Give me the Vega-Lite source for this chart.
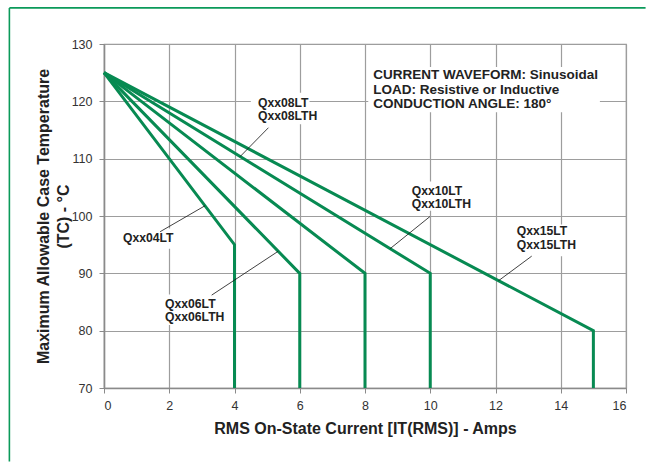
{
  "$schema": "https://vega.github.io/schema/vega-lite/v6.json",
  "width": 522,
  "height": 344,
  "autosize": {"type": "none"},
  "padding": {"left": 104, "top": 44, "right": 27, "bottom": 77},
  "background": "white",
  "config": {
    "font": "Liberation Sans",
    "view": {"stroke": "#999999", "strokeWidth": 1.2},
    "axis": {
      "grid": true,
      "gridColor": "#9d9d9d",
      "gridWidth": 1.2,
      "domainColor": "#8a8a8a",
      "domainWidth": 1.5,
      "tickColor": "#8a8a8a",
      "tickSize": 5,
      "labelFontSize": 12.5,
      "labelColor": "#333333",
      "labelFont": "Liberation Sans",
      "titleFont": "Liberation Sans",
      "titleFontSize": 16,
      "titleFontWeight": "bold",
      "titleColor": "#222222"
    }
  },
  "datasets": {
    "frame": [
      {"x": -2.9, "x2": 16.6, "y": 136.3, "y2": 136.3},
      {"x": -2.9, "x2": -2.9, "y": 136.3, "y2": 57.2}
    ],
    "curves": [
      {"series": "Qxx04LT", "i": 0, "x": 0, "y": 125},
      {"series": "Qxx04LT", "i": 1, "x": 4, "y": 95},
      {"series": "Qxx04LT", "i": 2, "x": 4, "y": 70},
      {"series": "Qxx06LT", "i": 0, "x": 0, "y": 125},
      {"series": "Qxx06LT", "i": 1, "x": 6, "y": 90},
      {"series": "Qxx06LT", "i": 2, "x": 6, "y": 70},
      {"series": "Qxx08LT", "i": 0, "x": 0, "y": 125},
      {"series": "Qxx08LT", "i": 1, "x": 8, "y": 90},
      {"series": "Qxx08LT", "i": 2, "x": 8, "y": 70},
      {"series": "Qxx10LT", "i": 0, "x": 0, "y": 125},
      {"series": "Qxx10LT", "i": 1, "x": 10, "y": 90},
      {"series": "Qxx10LT", "i": 2, "x": 10, "y": 70},
      {"series": "Qxx15LT", "i": 0, "x": 0, "y": 125},
      {"series": "Qxx15LT", "i": 1, "x": 15, "y": 80},
      {"series": "Qxx15LT", "i": 2, "x": 15, "y": 70}
    ],
    "boxes": [
      {"x": 8.1, "x2": 15.2, "y": 118.1, "y2": 126.0},
      {"x": 4.5, "x2": 6.3, "y": 116.0, "y2": 121.5},
      {"x": 0.5, "x2": 2.3, "y": 94.3, "y2": 97.8},
      {"x": 1.75, "x2": 3.8, "y": 81.0, "y2": 86.3},
      {"x": 9.3, "x2": 11.1, "y": 100.9, "y2": 106.0},
      {"x": 12.5, "x2": 15.0, "y": 93.0, "y2": 98.5}
    ],
    "leaders": [
      {"x": 5.04, "y": 115.4, "x2": 4.17, "y2": 110.35},
      {"x": 1.72, "y": 97.26, "x2": 3.1, "y2": 101.8},
      {"x": 3.3, "y": 86.2, "x2": 5.34, "y2": 93.85},
      {"x": 9.99, "y": 99.9, "x2": 8.77, "y2": 94.3},
      {"x": 13.11, "y": 93.0, "x2": 12.09, "y2": 88.7}
    ],
    "labels": [
      {"text": "Qxx08LT", "x": 4.72, "y": 119.76},
      {"text": "Qxx08LTH", "x": 4.72, "y": 117.44},
      {"text": "Qxx04LT", "x": 0.58, "y": 96.16},
      {"text": "Qxx06LT", "x": 1.87, "y": 84.65},
      {"text": "Qxx06LTH", "x": 1.87, "y": 82.38},
      {"text": "Qxx10LT", "x": 9.43, "y": 104.41},
      {"text": "Qxx10LTH", "x": 9.43, "y": 102.09},
      {"text": "Qxx15LT", "x": 12.65, "y": 97.43},
      {"text": "Qxx15LTH", "x": 12.65, "y": 94.94}
    ],
    "notes": [
      {"text": "CURRENT WAVEFORM: Sinusoidal", "x": 8.25, "y": 124.59},
      {"text": "LOAD: Resistive or Inductive", "x": 8.25, "y": 121.98},
      {"text": "CONDUCTION ANGLE: 180°", "x": 8.25, "y": 119.53}
    ]
  },
  "encoding": {
    "x": {
      "field": "x",
      "type": "quantitative",
      "scale": {"domain": [0, 16], "nice": false, "zero": false},
      "axis": {
        "values": [0, 2, 4, 6, 8, 10, 12, 14, 16],
        "labelPadding": 6,
        "titlePadding": 9,
        "title": "RMS On-State Current [IT(RMS)] - Amps"
      }
    },
    "y": {
      "field": "y",
      "type": "quantitative",
      "scale": {"domain": [70, 130], "nice": false, "zero": false},
      "axis": {
        "values": [70, 80, 90, 100, 110, 120, 130],
        "labelPadding": 7,
        "titlePadding": 0,
        "titleLineHeight": 20,
        "title": ["Maximum Allowable Case Temperature", "(TC) - °C"]
      }
    }
  },
  "layer": [
    {
      "data": {"name": "frame"},
      "mark": {"type": "rule", "clip": false, "color": "#0b9a5a", "strokeWidth": 1.6},
      "encoding": {"x2": {"field": "x2"}, "y2": {"field": "y2"}}
    },
    {
      "data": {"name": "boxes"},
      "mark": {"type": "rect", "fill": "white", "stroke": null},
      "encoding": {"x2": {"field": "x2"}, "y2": {"field": "y2"}}
    },
    {
      "data": {"name": "curves"},
      "mark": {"type": "line", "color": "#078a52", "strokeWidth": 3, "strokeJoin": "miter", "strokeCap": "butt"},
      "encoding": {
        "detail": {"field": "series"},
        "order": {"field": "i", "type": "quantitative"}
      }
    },
    {
      "data": {"name": "leaders"},
      "mark": {"type": "rule", "color": "#111111", "strokeWidth": 0.8},
      "encoding": {"x2": {"field": "x2"}, "y2": {"field": "y2"}}
    },
    {
      "data": {"name": "labels"},
      "mark": {"type": "text", "align": "left", "baseline": "middle", "fontSize": 12.2, "fontWeight": "bold", "color": "#222222", "font": "Liberation Sans"},
      "encoding": {"text": {"field": "text"}}
    },
    {
      "data": {"name": "notes"},
      "mark": {"type": "text", "align": "left", "baseline": "middle", "fontSize": 13.5, "fontWeight": "bold", "color": "#222222", "font": "Liberation Sans"},
      "encoding": {"text": {"field": "text"}}
    }
  ]
}
